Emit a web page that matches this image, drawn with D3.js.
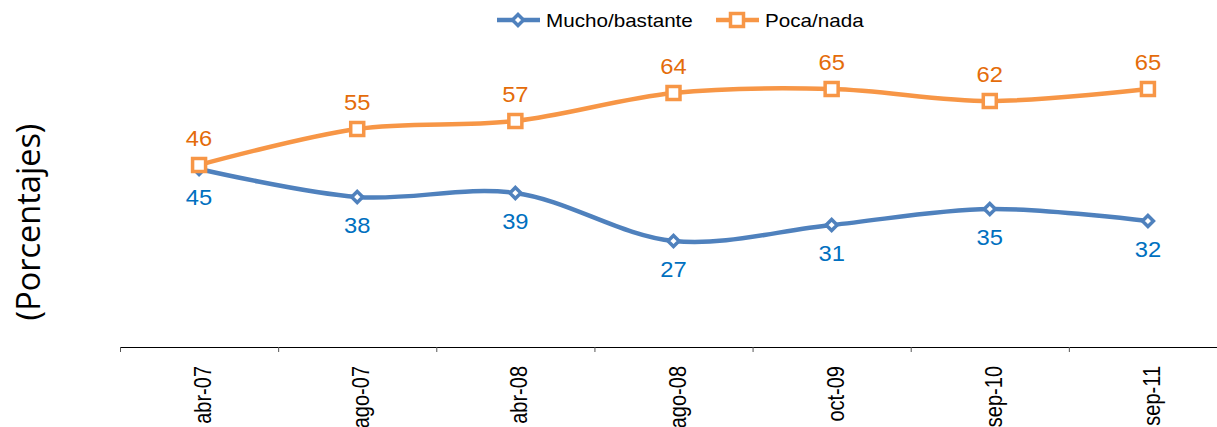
<!DOCTYPE html>
<html><head><meta charset="utf-8">
<script src="https://cdn.jsdelivr.net/npm/d3@7"></script>
<style>body{margin:0;background:#fff}svg{display:block}</style>
</head><body>
<svg id="c" width="1217" height="427"></svg>
<script>
const categories = ["abr-07","ago-07","abr-08","ago-08","oct-09","sep-10","sep-11"];
const mucho = [45,38,39,27,31,35,32];
const poca = [46,55,57,64,65,62,65];
const seriesNames = ["Mucho/bastante","Poca/nada"];

const svg = d3.select("#c");
const x = d3.scaleBand().domain(categories).range([120, 1227]).padding(0);
const y = d3.scaleLinear().domain([0, 80]).range([349, 29]);
const cx = d => x(d) + x.bandwidth()/2;
const FONT = "Liberation Sans, Arial, sans-serif";

// x axis
const gx = svg.append("g").attr("transform","translate(0,347)").call(d3.axisBottom(x).tickSize(0).tickFormat(""));
gx.select(".domain").attr("stroke","#000").attr("stroke-width",1.2).attr("d","M120.5,0.5H1217");
gx.selectAll(".tick").remove();
const tickPos = categories.map(c => x(c));
svg.append("g").selectAll("line").data(tickPos).join("line")
  .attr("x1",d=>d+0.5).attr("x2",d=>d+0.5).attr("y1",347).attr("y2",352)
  .attr("stroke","#555").attr("stroke-width",1);
svg.append("g").selectAll("text").data(categories).join("text")
  .attr("transform",d=>`translate(${cx(d)+12},366) scale(1.2,1) rotate(-90)`)
  .attr("text-anchor","end")
  .attr("font-family",FONT)
  .attr("font-size",20).attr("fill","#000").text(d=>d);

// y label
svg.append("text").attr("transform","translate(40,222) rotate(-90)")
  .attr("text-anchor","middle").attr("font-family","Open Sans, sans-serif")
  .attr("font-size",32.5).attr("fill","#000").text("(Porcentajes)");

const line = d3.line().x((d,i)=>cx(categories[i])).y(d=>y(d)).curve(d3.curveCatmullRom.alpha(0.5));

const blue = "#4F81BD", orange = "#F79646";
svg.append("path").attr("d",line(mucho)).attr("fill","none").attr("stroke",blue).attr("stroke-width",4.5);
svg.append("path").attr("d",line(poca)).attr("fill","none").attr("stroke",orange).attr("stroke-width",4.5);

// markers
const diamond = (g, px, py) => g.append("path")
  .attr("d",`M${px},${py-5.5}L${px+5.5},${py}L${px},${py+5.5}L${px-5.5},${py}Z`)
  .attr("fill","#fff").attr("stroke",blue).attr("stroke-width",3.5);
const square = (g, px, py) => g.append("rect")
  .attr("x",px-6.5).attr("y",py-6.5).attr("width",13).attr("height",13)
  .attr("fill","#fff").attr("stroke",orange).attr("stroke-width",3.5);

const gm = svg.append("g");
mucho.forEach((v,i)=>diamond(gm, cx(categories[i]), y(v)));
poca.forEach((v,i)=>square(gm, cx(categories[i]), y(v)));

// labels
svg.append("g").selectAll("text").data(mucho).join("text")
  .attr("transform",(d,i)=>`translate(${cx(categories[i])},${y(d)+36}) scale(1.08,1)`)
  .attr("text-anchor","middle").attr("font-family",FONT)
  .attr("font-size",22).attr("fill","#0070C0").text(d=>d);
svg.append("g").selectAll("text").data(poca).join("text")
  .attr("transform",(d,i)=>`translate(${cx(categories[i])},${y(d)-19}) scale(1.08,1)`)
  .attr("text-anchor","middle").attr("font-family",FONT)
  .attr("font-size",22).attr("fill","#E46C0A").text(d=>d);

// legend
const lg = svg.append("g");
lg.append("line").attr("x1",497).attr("x2",540).attr("y1",20).attr("y2",20).attr("stroke",blue).attr("stroke-width",4.5);
diamond(lg, 518, 20);
lg.append("text").attr("transform","translate(546,26.5) scale(1.18,1)").attr("font-family",FONT)
  .attr("font-size",17.5).attr("fill","#000").text(seriesNames[0]);
lg.append("line").attr("x1",716).attr("x2",759).attr("y1",20).attr("y2",20).attr("stroke",orange).attr("stroke-width",4.5);
square(lg, 737, 20);
lg.append("text").attr("transform","translate(765,26.5) scale(1.18,1)").attr("font-family",FONT)
  .attr("font-size",17.5).attr("fill","#000").text(seriesNames[1]);
</script>
</body></html>
